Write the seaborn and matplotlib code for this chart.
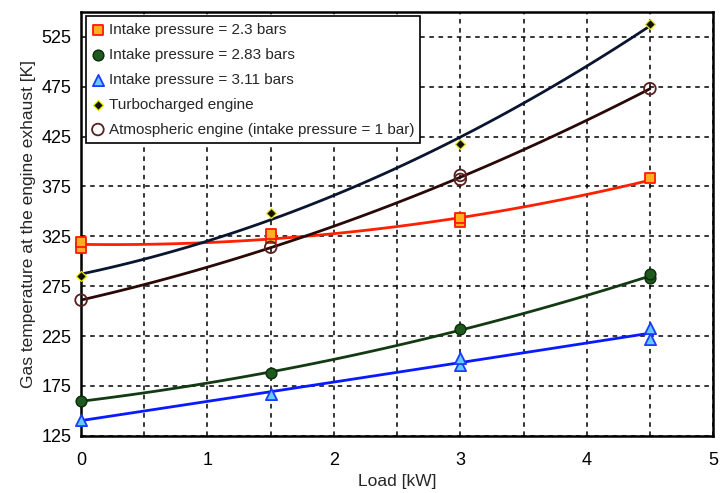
import numpy as np
import pandas as pd
import matplotlib.pyplot as plt
import seaborn as sns
from matplotlib.ticker import MultipleLocator

# measured points (load in kW, gas temperature in K)
load_23 = [0, 0, 1.5, 1.5, 3, 3, 4.5]
temp_23 = [313, 319, 323, 327, 339, 343, 383]
load_283 = [0, 1.5, 3, 4.5, 4.5]
temp_283 = [160, 188, 232, 283, 287]
load_311 = [0, 1.5, 3, 3, 4.5, 4.5]
temp_311 = [141, 167, 196, 203, 222, 233]
load_turbo = [0, 1.5, 3, 4.5]
temp_turbo = [285, 348, 418, 538]
load_atmo = [0, 1.5, 3, 3, 4.5]
temp_atmo = [261, 314, 382, 386, 473]

series = [
    ("Intake pressure = 2.3 bars", load_23, temp_23,
     dict(marker="s", s=45, color="#ffb020", edgecolor="#ff1a00", linewidth=1.3), "#ff2000"),
    ("Intake pressure = 2.83 bars", load_283, temp_283,
     dict(marker="o", s=60, color="#1e5a1e", edgecolor="#0a2a0a", linewidth=1.0), "#143a14"),
    ("Intake pressure = 3.11 bars", load_311, temp_311,
     dict(marker="^", s=65, color="#66ccff", edgecolor="#1a3cff", linewidth=1.3), "#0a1aff"),
    ("Turbocharged engine", load_turbo, temp_turbo,
     dict(marker="D", s=26, color="#111111", edgecolor="#e8e800", linewidth=0.9), "#0a1530"),
    ("Atmospheric engine (intake pressure = 1 bar)", load_atmo, temp_atmo,
     dict(marker="o", s=70, color="none", edgecolor="#5a2020", linewidth=1.3), "#2a0808"),
]

sns.set_theme(style="white")
plt.rcParams['font.family'] = ['Liberation Sans', 'DejaVu Sans']

fig = plt.figure(figsize=(7.24, 4.93), dpi=100)
ax = fig.add_axes([0.112, 0.116, 0.873, 0.86])

for label, xs, ys, mk, lc in series:
    # second-order trend line through the measurements
    coef = np.polyfit(xs, ys, 2)
    xf = np.linspace(0, 4.5, 100)
    fit = pd.DataFrame({"x": xf, "y": np.polyval(coef, xf)})
    sns.lineplot(data=fit, x="x", y="y", ax=ax, color=lc, linewidth=2.0, zorder=3)
    df = pd.DataFrame({"x": xs, "y": ys})
    sns.scatterplot(data=df, x="x", y="y", ax=ax, label=label, zorder=4,
                    clip_on=False, **mk)

ax.set_xlim(0, 5)
ax.set_ylim(125, 550)
ax.xaxis.set_major_locator(MultipleLocator(1))
ax.xaxis.set_minor_locator(MultipleLocator(0.5))
ax.set_yticks(np.arange(125, 526, 50))
ax.yaxis.set_minor_locator(MultipleLocator(25))
ax.tick_params(which="major", direction="inout", length=7, width=1.2, labelsize=13, colors="black")
ax.tick_params(which="minor", direction="in", length=3, width=1.0)
ax.tick_params(axis="x", pad=8)
ax.grid(True, which="major", color="black", linestyle=(0, (3, 3)), linewidth=1.1)
ax.grid(True, which="minor", axis="x", color="black", linestyle=(0, (3, 3)), linewidth=1.1)
for sp in ax.spines.values():
    sp.set_color("black")
    sp.set_linewidth(1.8)

ax.set_xlabel("Load [kW]", fontsize=12.5)
ax.set_ylabel("Gas temperature at the engine exhaust [K]", fontsize=12.5)

leg = ax.legend(loc="upper left", fontsize=11, frameon=True, fancybox=False,
                edgecolor="black", framealpha=1, borderaxespad=0.3,
                handlelength=0.8, handletextpad=0.3, labelspacing=0.72, borderpad=0.4)
leg.get_frame().set_linewidth(1.2)

fig.savefig("out.png", dpi=100)
